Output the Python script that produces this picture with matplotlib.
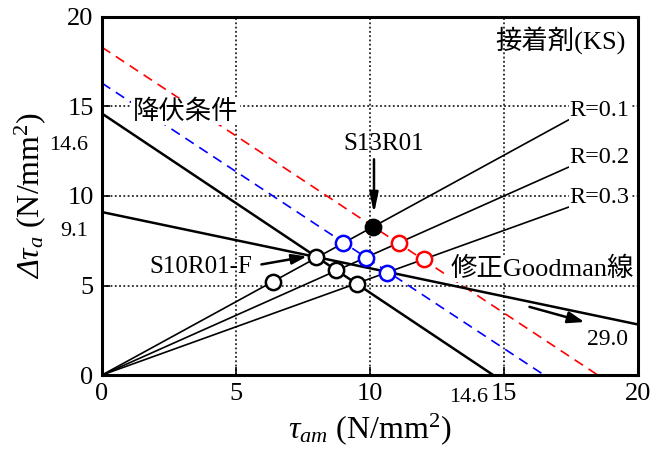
import matplotlib
matplotlib.use('Agg')
import matplotlib.pyplot as plt

plt.rcParams['font.family'] = ['Liberation Serif', 'Noto Sans CJK JP']
plt.rcParams['mathtext.fontset'] = 'custom'
plt.rcParams['mathtext.rm'] = 'Liberation Serif:italic'
plt.rcParams['mathtext.it'] = 'Liberation Serif:italic'
plt.rcParams['mathtext.sf'] = 'Liberation Serif'

# data
r_values = [0.1, 0.2, 0.3]
r_labels = ['R=0.1', 'R=0.2', 'R=0.3']
r_end_x = 17.4
yield_x0 = 14.6            # yield condition: (0,14.6)-(14.6,0)
goodman_y0, goodman_x0 = 9.1, 29.0
red_y0, red_x0 = 18.3, 18.5
blue_y0, blue_x0 = 16.3, 16.5

black_x = [6.4, 8.0, 8.75, 9.5]
black_y = [5.2, 6.57, 5.85, 5.1]
blue_x = [9.0, 9.85, 10.65]
blue_y = [7.36, 6.55, 5.72]
red_x = [11.1, 12.0]
red_y = [7.4, 6.47]
s13_x, s13_y = 10.1, 8.25

fig = plt.figure(figsize=(6.66, 4.53), dpi=100)
ax = fig.add_axes([0.153, 0.172, 0.805, 0.791])
ax.set_xlim(0, 20)
ax.set_ylim(0, 20)

for v in [5, 10, 15]:
    ax.axvline(v, color='k', lw=1.1, ls=(0, (1.2, 1.6)), zorder=1)
    ax.axhline(v, color='k', lw=1.1, ls=(0, (1.2, 1.6)), zorder=1)

ax.plot([0, red_x0], [red_y0, 0], color='red', lw=1.2, ls=(0, (6, 4)), zorder=2)
ax.plot([0, blue_x0], [blue_y0, 0], color='blue', lw=1.2, ls=(0, (6, 4)), zorder=2)
ax.plot([0, yield_x0], [yield_x0, 0], color='k', lw=1.8, zorder=2)
ax.plot([0, goodman_x0], [goodman_y0, 0], color='k', lw=1.8, zorder=2)

for r, lab in zip(r_values, r_labels):
    ye = r_end_x * (1 - r) / (1 + r)
    ax.plot([0, r_end_x], [0, ye], color='k', lw=1.2, zorder=2)
    ax.text(17.45, ye + 0.55, lab, fontsize=17.5, ha='left', va='center',
            bbox=dict(facecolor='white', edgecolor='none', pad=0.5), zorder=4)

ax.plot(black_x, black_y, 'o', ms=11, mfc='white', mec='k', mew=1.8, zorder=5)
ax.plot(blue_x, blue_y, 'o', ms=11, mfc='white', mec='blue', mew=1.8, zorder=5)
ax.plot(red_x, red_y, 'o', ms=11, mfc='white', mec='red', mew=1.8, zorder=5)
ax.plot([s13_x], [s13_y], 'o', ms=11, mfc='k', mec='k', mew=1.8, zorder=5)

ax.text(19.55, 18.7, '接着剤(KS)', fontsize=19, ha='right', va='center')
ax.text(1.15, 14.7, '降伏条件', fontsize=19, ha='left', va='center',
        bbox=dict(facecolor='white', edgecolor='none', pad=1), zorder=4)
ax.text(13.0, 5.96, '修正Goodman線', fontsize=19, ha='left', va='center',
        bbox=dict(facecolor='white', edgecolor='none', pad=1), zorder=4)

ax.text(10.5, 12.9, 'S13R01', fontsize=18, ha='center', va='center')
ax.annotate('', xy=(10.15, 8.85), xytext=(10.15, 12.2),
            arrowprops=dict(arrowstyle='-|>,head_length=1.2,head_width=0.25',
                            color='k', lw=1.8), zorder=6)
ax.text(5.6, 6.05, 'S10R01-F', fontsize=18, ha='right', va='center')
ax.annotate('', xy=(7.75, 6.65), xytext=(5.85, 6.15),
            arrowprops=dict(arrowstyle='-|>,head_length=0.9,head_width=0.3',
                            color='k', lw=1.8), zorder=6)
ax.text(18.85, 2.0, '29.0', fontsize=17, ha='center', va='center')
ax.annotate('', xy=(18.1, 2.92), xytext=(15.85, 3.85),
            arrowprops=dict(arrowstyle='-|>,head_length=1.0,head_width=0.35',
                            color='k', lw=1.8), zorder=6)

ax.set_xticks([0, 5, 10, 15, 20])
ax.set_yticks([0, 5, 10, 15, 20])
ax.tick_params(direction='in', length=6, width=1.2, labelsize=19, pad=6)
for s in ax.spines.values():
    s.set_linewidth(2.2)

# extra tick labels
ax.text(-0.5, 12.8, '14.6', fontsize=16, ha='right', va='center', clip_on=False)
ax.text(-0.5, 8.0, '9.1', fontsize=16, ha='right', va='center', clip_on=False)
ax.text(14.4, -0.7, '14.6', fontsize=16, ha='right', va='top', clip_on=False)

ax.set_xlabel(r'$\tau_{am}$ (N/mm$^\mathsf{2}$)', fontsize=23, labelpad=4)
ax.set_ylabel(r'$\Delta\tau_a$ (N/mm$^\mathsf{2}$)', fontsize=23, labelpad=14)

fig.savefig('out.png', dpi=100)
